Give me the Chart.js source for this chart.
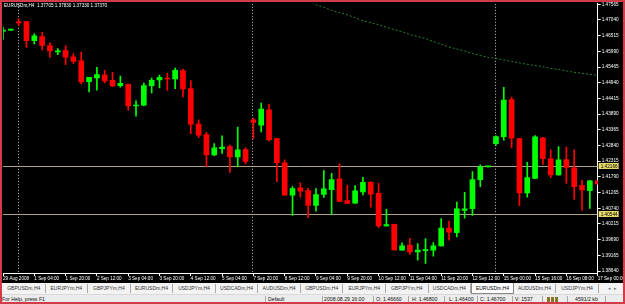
<!DOCTYPE html>
<html>
<head>
<meta charset="utf-8">
<script src="https://cdn.jsdelivr.net/npm/chart.js@4/dist/chart.umd.min.js"></script>
<style>
  html, body { margin: 0; padding: 0; background: #000; }
  #wrap { position: relative; width: 625px; height: 304px; overflow: hidden; background: #000;
          font-family: 'Liberation Sans', Arial, sans-serif; }
  #chart { position: absolute; left: 0; top: 0; }
  #title { position: absolute; left: 4px; top: 3px; color: #fff; font-size: 4.6px; white-space: pre; }
  #tabs { position: absolute; left: 0; top: 283px; width: 625px; height: 11px; background: #f3f3f3; }
  .tab { position: absolute; top: 1px; height: 9px; line-height: 9px; font-size: 5px; color: #333;
         text-align: center; border-right: 1px solid #a8a8a8; box-sizing: border-box; white-space: nowrap; }
  .tab.active { top: 0; height: 11px; line-height: 11px; background: #fff; border: 1px solid #8a8a8a; border-top: none; color: #000; }
  #arrows { position: absolute; left: 608px; top: 1px; font-size: 5px; color: #777; line-height: 9px; letter-spacing: 3px; }
  #status { position: absolute; left: 0; top: 294px; width: 625px; height: 10px; background: #ececec; border-top: 1px solid #d8d8d8; box-sizing: border-box; }
  .st { position: absolute; top: 0; line-height: 8px; font-size: 5.2px; color: #111; white-space: nowrap; }
  .sep { position: absolute; top: 1px; width: 1px; height: 7px; background: #a8a8a8; }
  #icon { position: absolute; left: 547px; top: 2px; width: 12px; height: 5px;
          background: repeating-linear-gradient(90deg, #b06020 0 2px, #3a9a3a 2px 3px, #ececec 3px 4px); }
  #frame { position: absolute; left: 0; top: 0; width: 625px; height: 304px; box-sizing: border-box;
           border: 2px solid #d23c48; pointer-events: none; }
</style>
</head>
<body>
<div id="wrap">
  <canvas id="chart" width="625" height="283"></canvas>
  <div id="title">EURUSDm,H4  1.37705 1.37830 1.37330 1.37370</div>
  <div id="tabs"></div>
  <div id="status">
    <div class="st" style="left:2px">For Help, press F1</div>
    <div class="sep" style="left:265px"></div>
    <div class="st" style="left:268px">Default</div>
    <div class="sep" style="left:322px"></div>
    <div class="st" style="left:324px">2008.08.29 16:00</div>
    <div class="sep" style="left:373px"></div>
    <div class="st" style="left:376px">O: 1.46660</div>
    <div class="sep" style="left:408px"></div>
    <div class="st" style="left:412px">H: 1.46800</div>
    <div class="sep" style="left:444px"></div>
    <div class="st" style="left:449px">L: 1.46400</div>
    <div class="sep" style="left:477px"></div>
    <div class="st" style="left:480px">C: 1.46700</div>
    <div class="sep" style="left:512px"></div>
    <div class="st" style="left:515px">V: 1537</div>
    <div class="sep" style="left:542px"></div>
    <div id="icon"></div>
    <div class="sep" style="left:567px"></div>
    <div class="st" style="left:575px">4591/2 kb</div>
    <div class="sep" style="left:605px"></div>
  </div>
  <div id="frame"></div>
</div>
<script>
/////////////////////////////
// Data
/////////////////////////////

const categories = [
  '29 Aug 16:00', '29 Aug 20:00', '31 Aug 20:00',
  '1 Sep 00:00', '1 Sep 04:00', '1 Sep 08:00', '1 Sep 12:00', '1 Sep 16:00', '1 Sep 20:00',
  '2 Sep 00:00', '2 Sep 04:00', '2 Sep 08:00', '2 Sep 12:00', '2 Sep 16:00', '2 Sep 20:00',
  '3 Sep 00:00', '3 Sep 04:00', '3 Sep 08:00', '3 Sep 12:00', '3 Sep 16:00', '3 Sep 20:00',
  '4 Sep 00:00', '4 Sep 04:00', '4 Sep 08:00', '4 Sep 12:00', '4 Sep 16:00', '4 Sep 20:00',
  '5 Sep 00:00', '5 Sep 04:00', '5 Sep 08:00', '5 Sep 12:00', '5 Sep 16:00',
  '7 Sep 20:00',
  '8 Sep 00:00', '8 Sep 04:00', '8 Sep 08:00', '8 Sep 12:00', '8 Sep 16:00', '8 Sep 20:00',
  '9 Sep 00:00', '9 Sep 04:00', '9 Sep 08:00', '9 Sep 12:00', '9 Sep 16:00', '9 Sep 20:00',
  '10 Sep 00:00', '10 Sep 04:00', '10 Sep 08:00', '10 Sep 12:00', '10 Sep 16:00', '10 Sep 20:00',
  '11 Sep 00:00', '11 Sep 04:00', '11 Sep 08:00', '11 Sep 12:00', '11 Sep 16:00', '11 Sep 20:00',
  '12 Sep 00:00', '12 Sep 04:00', '12 Sep 08:00', '12 Sep 12:00', '12 Sep 16:00', '12 Sep 20:00',
  '14 Sep 20:00',
  '15 Sep 00:00', '15 Sep 04:00', '15 Sep 08:00', '15 Sep 12:00', '15 Sep 16:00', '15 Sep 20:00',
  '16 Sep 00:00', '16 Sep 04:00', '16 Sep 08:00', '16 Sep 12:00', '16 Sep 16:00', '16 Sep 20:00',
  '17 Sep 00:00'
];

const opens = [
  1.46660, 1.46700, 1.46961, 1.46981, 1.46349, 1.46482, 1.46183, 1.45970, 1.46017, 1.45808,
  1.45675, 1.44977, 1.45097, 1.45196, 1.45020, 1.44844, 1.44887, 1.44160, 1.44189, 1.44844,
  1.45030, 1.45097, 1.45063, 1.45342, 1.44744, 1.43558, 1.43203, 1.42528, 1.42737, 1.42804,
  1.42461, 1.42704, 1.43701, 1.43515, 1.44033, 1.43070, 1.42262, 1.41175, 1.41421, 1.41332,
  1.40833, 1.41199, 1.41365, 1.41720, 1.40999, 1.40910, 1.41288, 1.41607, 1.41242, 1.40145,
  1.40202, 1.39338, 1.39504, 1.39281, 1.39321, 1.39338, 1.39481, 1.40079, 1.39926, 1.40667,
  1.40724, 1.41697, 1.42125, 1.42903, 1.43136, 1.44379, 1.43070, 1.41255, 1.41740, 1.43093,
  1.42395, 1.41853, 1.42372, 1.42096, 1.41498, 1.41332, 1.41654
];
const highs = [
  1.46800, 1.46710, 1.47080, 1.46990, 1.46572, 1.46625, 1.46273, 1.46084, 1.46173, 1.45917,
  1.45961, 1.45120, 1.45452, 1.45352, 1.45286, 1.45163, 1.44900, 1.44332, 1.44930, 1.45097,
  1.45196, 1.45263, 1.45429, 1.45396, 1.45010, 1.43701, 1.43282, 1.42903, 1.43159, 1.42850,
  1.43458, 1.42761, 1.43747, 1.44256, 1.44213, 1.43080, 1.42362, 1.41465, 1.41587, 1.41408,
  1.41398, 1.41996, 1.41907, 1.42229, 1.41508, 1.41498, 1.41774, 1.41631, 1.41574, 1.40700,
  1.40210, 1.39580, 1.39737, 1.39560, 1.39727, 1.39594, 1.40391, 1.40311, 1.40943, 1.41275,
  1.41963, 1.42196, 1.42140, 1.43159, 1.44788, 1.44455, 1.43080, 1.42272, 1.43169, 1.43100,
  1.42694, 1.42804, 1.42784, 1.42694, 1.41674, 1.41674, 1.41660
];
const lows = [
  1.46400, 1.46690, 1.46848, 1.46117, 1.46240, 1.46040, 1.45794, 1.45874, 1.45542, 1.45585,
  1.44911, 1.44631, 1.44688, 1.44931, 1.44811, 1.44788, 1.44023, 1.43824, 1.44166, 1.44598,
  1.44764, 1.44678, 1.44744, 1.44465, 1.43236, 1.43103, 1.42129, 1.42495, 1.42571, 1.41940,
  1.42129, 1.42219, 1.43070, 1.43292, 1.42993, 1.41631, 1.41165, 1.40501, 1.41109, 1.40424,
  1.40644, 1.41099, 1.40534, 1.40960, 1.40895, 1.40905, 1.41189, 1.40777, 1.40092, 1.40140,
  1.39340, 1.39330, 1.39195, 1.39006, 1.38896, 1.39138, 1.39475, 1.39670, 1.39780, 1.40411,
  1.40501, 1.41465, 1.42120, 1.42850, 1.43016, 1.42761, 1.40823, 1.41109, 1.41730, 1.42206,
  1.41764, 1.41850, 1.41574, 1.41033, 1.40667, 1.40733, 1.41540
];
const closes = [
  1.46700, 1.46700, 1.46940, 1.46349, 1.46506, 1.46183, 1.46007, 1.45990, 1.45794, 1.45652,
  1.44964, 1.45120, 1.45210, 1.44997, 1.44831, 1.44920, 1.44166, 1.44180, 1.44844, 1.45020,
  1.45120, 1.45063, 1.45352, 1.44731, 1.43548, 1.43183, 1.42528, 1.42761, 1.42784, 1.42461,
  1.42694, 1.42305, 1.43615, 1.44057, 1.43036, 1.42262, 1.41175, 1.41398, 1.41308, 1.40833,
  1.41199, 1.41388, 1.41697, 1.40966, 1.40900, 1.41322, 1.41607, 1.41209, 1.40145, 1.40192,
  1.39348, 1.39481, 1.39281, 1.39338, 1.39354, 1.39481, 1.40079, 1.39936, 1.40724, 1.40724,
  1.41697, 1.42129, 1.42135, 1.43136, 1.44356, 1.43083, 1.41255, 1.41764, 1.43126, 1.42395,
  1.41853, 1.42362, 1.42106, 1.41465, 1.41355, 1.41654, 1.41554
];

// long moving average (only visible on the right half)
const maValues = [
  null, null, null, null, null, null, null, null, null, null,
  null, null, null, null, null, null, null, null, null, null,
  null, null, null, null, null, null, null, null, null, null,
  null, null, null, null, null, null, null, null,
  1.47712, 1.47645, 1.47546, 1.47463, 1.47363, 1.47280, 1.47213, 1.47114, 1.47014, 1.46948,
  1.46881, 1.46798, 1.46715, 1.46648, 1.46549, 1.46482, 1.46416, 1.46316, 1.46233, 1.46133,
  1.46067, 1.46000, 1.45917, 1.45851, 1.45784, 1.45751, 1.45701, 1.45652, 1.45602, 1.45552,
  1.45519, 1.45469, 1.45419, 1.45386, 1.45336, 1.45286, 1.45253, 1.45220, 1.45186
];

const priceTicks = [
  1.47565, 1.47040, 1.46515, 1.45990, 1.45465, 1.44940, 1.44415, 1.43890, 1.43365,
  1.42840, 1.42315, 1.41790, 1.41265, 1.40740, 1.40215, 1.39690, 1.39165, 1.38640
];
const tickTimes = [
  '29 Aug 16:00', '1 Sep 04:00', '1 Sep 20:00', '2 Sep 12:00', '3 Sep 04:00', '3 Sep 20:00',
  '4 Sep 12:00', '5 Sep 04:00', '7 Sep 20:00', '8 Sep 12:00', '9 Sep 04:00', '9 Sep 20:00',
  '10 Sep 12:00', '11 Sep 04:00', '11 Sep 20:00', '12 Sep 12:00', '15 Sep 00:00', '15 Sep 16:00',
  '16 Sep 08:00', '17 Sep 00:00'
];
const tickLabels = [
  '29 Aug 2008', '1 Sep 04:00', '1 Sep 20:00', '2 Sep 12:00', '3 Sep 04:00', '3 Sep 20:00',
  '4 Sep 12:00', '5 Sep 04:00', '7 Sep 20:00', '8 Sep 12:00', '9 Sep 04:00', '9 Sep 20:00',
  '10 Sep 12:00', '11 Sep 04:00', '11 Sep 20:00', '12 Sep 12:00', '15 Sep 00:00', '15 Sep 16:00',
  '16 Sep 08:00', '17 Sep 00:00'
];

const separators = ['31 Aug 20:00', '7 Sep 20:00', '14 Sep 20:00'];
const levels = [1.42166, 1.40544];

const tabNames = [
  'GBPUSDm,H4', 'EURJPYm,H4', 'GBPJPYm,H4', 'EURUSDm,H4', 'USDJPYm,H4', 'USDCADm,H4', 'AUDUSDm,H4',
  'GBPUSDm,H4', 'EURJPYm,H4', 'GBPJPYm,H4', 'USDCADm,H4', 'EURUSDm,H4', 'AUDUSDm,H4', 'USDJPYm,H4'
];
const activeTab = 11;

/////////////////////////////
// Tabs
/////////////////////////////

const tabBar = document.getElementById('tabs');
tabNames.forEach((name, i) => {
  const t = document.createElement('div');
  t.className = 'tab' + (i === activeTab ? ' active' : '');
  t.style.left = (3 + 42.56 * i) + 'px';
  t.style.width = '42.56px';
  t.textContent = name;
  tabBar.appendChild(t);
});
const arrows = document.createElement('div');
arrows.id = 'arrows';
arrows.textContent = '\u25C2\u25B8';
tabBar.appendChild(arrows);

/////////////////////////////
// Chart
/////////////////////////////

const UP = '#00ff00';
const DOWN = '#ff0000';
const FONT = "'Liberation Sans', Arial, sans-serif";

const candleColors = closes.map((c, i) => (c >= opens[i] ? UP : DOWN));
const bodies = opens.map((o, i) => [Math.min(o, closes[i]), Math.max(o, closes[i])]);
const wicks = lows.map((l, i) => [l, highs[i]]);

// lines, separators and price boxes
const overlay = {
  id: 'overlay',
  beforeDatasetsDraw(chart) {
    const { ctx, chartArea: a, scales: { x, y } } = chart;
    ctx.save();
    ctx.beginPath();
    ctx.rect(a.left, a.top, a.right - a.left, a.bottom - a.top);
    ctx.clip();
    ctx.lineWidth = 1;

    ctx.strokeStyle = '#c4c4c4';
    ctx.setLineDash([1, 2]);
    separators.forEach(s => {
      const px = Math.round(x.getPixelForValue(categories.indexOf(s))) - 0.5;
      ctx.beginPath();
      ctx.moveTo(px, a.top);
      ctx.lineTo(px, a.bottom);
      ctx.stroke();
    });

    ctx.setLineDash([]);
    ctx.strokeStyle = '#aca57f';
    levels.forEach(l => {
      const py = Math.round(y.getPixelForValue(l)) + 0.5;
      ctx.beginPath();
      ctx.moveTo(a.left, py);
      ctx.lineTo(a.right, py);
      ctx.stroke();
    });
    ctx.restore();
  },
  afterDraw(chart) {
    const { ctx, chartArea: a, scales: { y } } = chart;
    ctx.save();
    ctx.font = '4.7px ' + FONT;
    ctx.textBaseline = 'middle';
    levels.forEach(l => {
      const py = Math.round(y.getPixelForValue(l));
      ctx.fillStyle = '#e6da6a';
      ctx.fillRect(a.right + 1, py - 3, 20, 6);
      ctx.fillStyle = '#000';
      ctx.fillText(l.toFixed(5), a.right + 3, py + 0.5);
    });
    ctx.restore();
  }
};

const ctx = document.getElementById('chart').getContext('2d');
const chart = new Chart(ctx, {
  type: 'bar',
  data: {
    labels: categories,
    datasets: [
      {
        label: 'Body',
        data: bodies,
        backgroundColor: candleColors,
        barThickness: 5,
        minBarLength: 1,
        grouped: false
      },
      {
        label: 'Wick',
        data: wicks,
        backgroundColor: candleColors,
        barThickness: 1,
        grouped: false
      },
      {
        type: 'line',
        label: 'MA',
        data: maValues,
        borderColor: '#2a7e2a',
        borderWidth: 1,
        borderDash: [2, 2],
        pointRadius: 0,
        tension: 0
      }
    ]
  },
  options: {
    responsive: false,
    animation: false,
    devicePixelRatio: 1,
    layout: { padding: { left: 3, top: 2, right: 0, bottom: 0 }, autoPadding: false },
    plugins: { legend: { display: false }, tooltip: { enabled: false } },
    scales: {
      x: {
        type: 'category',
        offset: false,
        grid: { drawOnChartArea: false, drawTicks: true, tickLength: 3, color: '#ffffff', offset: false },
        border: { color: '#ffffff' },
        afterBuildTicks: s => { s.ticks = s.ticks.filter(t => tickTimes.includes(categories[t.value])); },
        afterFit: s => { s.height = 10; },
        ticks: {
          autoSkip: false,
          maxRotation: 0,
          align: 'start',
          padding: 0,
          color: '#ffffff',
          font: { family: FONT, size: 4.6 },
          callback: v => tickLabels[tickTimes.indexOf(categories[v])]
        }
      },
      y: {
        position: 'right',
        min: 1.385735,
        max: 1.475789,
        grid: { drawOnChartArea: false, drawTicks: true, tickLength: 3, color: '#ffffff' },
        border: { color: '#ffffff' },
        afterBuildTicks: s => { s.ticks = priceTicks.map(v => ({ value: v })); },
        afterFit: s => { s.width = 22; },
        ticks: {
          padding: 1,
          color: '#ffffff',
          font: { family: FONT, size: 4.7 },
          callback: v => v.toFixed(5)
        }
      }
    }
  },
  plugins: [overlay]
});
</script>
</body>
</html>
